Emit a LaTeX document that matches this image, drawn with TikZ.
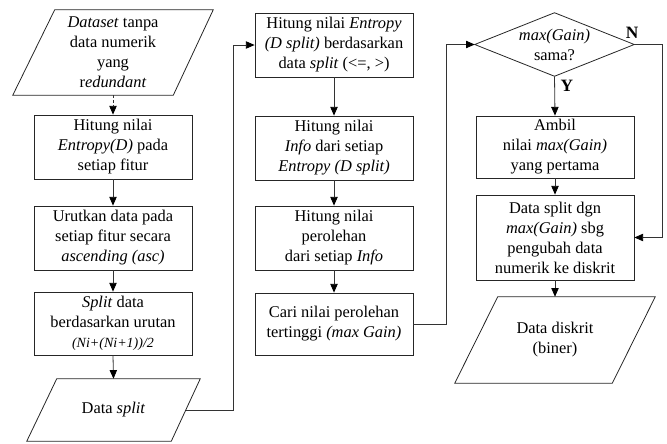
\documentclass[tikz,border=0pt]{standalone}
\usepackage{fontspec}
\setmainfont{Liberation Serif}
\usetikzlibrary{arrows.meta,calc}
\newcommand\flowfont{\fontsize{12.3}{15}\selectfont}
\tikzset{
  shapeline/.style={draw=black!85, line width=0.6pt},
  proc/.style={shapeline, minimum width=118.5pt, inner sep=0pt, align=center, font=\flowfont},
  io/.style={inner sep=0pt, align=center, font=\flowfont},
  flow/.style={draw=black!80, line width=0.6pt,
    -{Triangle[length=6.5pt,width=5.5pt,color=black,fill=black]}},
  lbl/.style={inner sep=0pt, font=\fontsize{13}{15}\selectfont\bfseries}
}
\begin{document}
\begin{tikzpicture}[x=0.75pt,y=-0.75pt]
\useasboundingbox (0,0) rectangle (667,443);

% ---- column 1 ----
\node[io, minimum width=150pt, minimum height=63.75pt] (p1) at (113,52.5)
  {\textit{Dataset} tanpa\\data numerik\\yang\\r\textit{edundant}};
\draw[shapeline] ([xshift=31.5pt]p1.north west) -- (p1.north east)
  -- ([xshift=-30pt]p1.south east) -- (p1.south west) -- cycle;

\node[proc, minimum height=48pt] (b2) at (113,147)
  {Hitung nilai\\\textit{Entropy(D)} pada\\setiap fitur};
\node[proc, minimum height=48pt] (b3) at (113,238)
  {Urutkan data pada\\setiap fitur secara\\\textit{ascending (asc)}};
\node[proc, minimum height=47.25pt] (b4) at (113,323.5)
  {\textit{Split} data\\berdasarkan urutan\\{\fontsize{10.5}{13}\selectfont\textit{(Ni+(Ni+1))/2}}};

\node[io, minimum width=129.75pt, minimum height=46.5pt] (p5) at (113.5,410)
  {Data \textit{split}};
\draw[shapeline] ([xshift=22.5pt]p5.north west) -- (p5.north east)
  -- ([xshift=-21.75pt]p5.south east) -- (p5.south west) -- cycle;
\coordinate (p5r) at ([xshift=-10.9pt]p5.east);

% ---- column 2 ----
\node[proc, minimum height=48pt] (b5) at (334,45)
  {Hitung nilai \textit{Entropy}\\\textit{(D split)} berdasarkan\\data \textit{split} (<=, >)};
\node[proc, minimum height=48pt] (b6) at (334,148)
  {Hitung nilai\\\textit{Info} dari setiap\\\textit{Entropy (D split)}};
\node[proc, minimum height=48pt] (b7) at (334,238)
  {Hitung nilai\\perolehan\\dari setiap \textit{Info}};
\node[proc, minimum height=46.5pt] (b8) at (334,324)
  {Cari nilai perolehan\\tertinggi \textit{(max Gain)}};

% ---- column 3 ----
\node[io, minimum width=119.25pt, minimum height=47.25pt] (d) at (554.5,44.5)
  {\textit{max(Gain)}\\sama?};
\draw[shapeline] (d.north) -- (d.east) -- (d.south) -- (d.west) -- cycle;

\node[proc, minimum height=46.5pt] (b9) at (555,147)
  {Ambil\\nilai \textit{max(Gain)}\\yang pertama};
\node[proc, minimum height=63.75pt] (b10) at (555,237.5)
  {Data split dgn\\\textit{max(Gain)} sbg\\pengubah data\\numerik ke diskrit};

\node[io, minimum width=150pt, minimum height=64.5pt] (p7) at (555,340)
  {Data diskrit\\(biner)};
\draw[shapeline] ([xshift=32.25pt]p7.north west) -- (p7.north east)
  -- ([xshift=-32.25pt]p7.south east) -- (p7.south west) -- cycle;

% branch labels
\node[lbl] (ln) at (632,33) {N};
\node[lbl] (ly) at (567,86) {Y};

% routing columns for the long connectors
\coordinate (j1) at (233,0);
\coordinate (j2) at (446,0);
\coordinate (j3) at (662,0);

% ---- connectors ----
\draw[flow, dash pattern=on 2pt off 1.5pt] (p1.south) -- (b2.north);
\draw[flow] (b2) -- (b3);
\draw[flow] (b3) -- (b4);
\draw[flow] (b4.south) -- (p5.north);
\draw[flow] (p5r) -- (p5r -| j1) |- (b5.west);

\draw[flow] (b5) -- (b6);
\draw[flow] (b6) -- (b7);
\draw[flow] (b7) -- (b8);
\draw[flow] (b8.east) -- (b8.east -| j2) |- (d.west);

\draw[flow] (d.south) -- (b9.north);
\draw[flow] (d.east) -- (d.east -| j3) |- (b10.east);
\draw[flow] (b9) -- (b10);
\draw[flow] (b10.south) -- (p7.north);
\end{tikzpicture}
\end{document}
